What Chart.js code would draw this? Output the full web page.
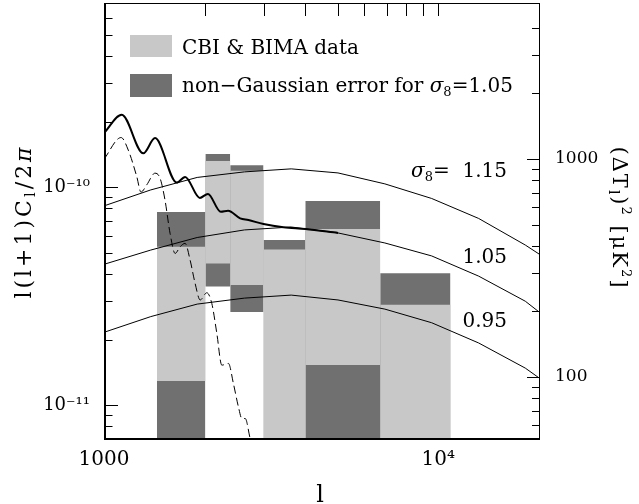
<!DOCTYPE html>
<html>
<head>
<meta charset="utf-8">
<script src="https://cdn.jsdelivr.net/npm/chart.js@4.4.1/dist/chart.umd.min.js"></script>
<style>
  body { margin: 0; background: #fff; }
  #box { width: 639px; height: 504px; }
</style>
</head>
<body>
<div id="box"><canvas id="spectrum"></canvas></div>
<script>
// multipole bin edges of the CBI and BIMA band powers
const binEdges = [1440, 2010, 2385, 3000, 4000, 6700, 10870];
// band power ranges in l(l+1)C_l/2pi (1e-12 = runs off the bottom of the plot)
const dataLow  = [1.29e-11, 4.47e-11, 3.56e-11, 1e-12, 1.53e-11, 1e-12];
const dataHigh = [5.33e-11, 1.32e-10, 1.19e-10, 5.18e-11, 6.43e-11, 2.89e-11];
const ngLow    = [1e-12, 3.50e-11, 2.68e-11, 1e-12, 1e-12, 1e-12];
const ngHigh   = [7.70e-11, 1.42e-10, 1.26e-10, 5.73e-11, 8.65e-11, 4.03e-11];

// SZ power spectra for three values of sigma_8
const ellSZ  = [1000, 1380, 1900, 2630, 3630, 5010, 6920, 9550, 13200, 18200, 20000];
const sz115  = [8.21e-11, 9.72e-11, 1.109e-10, 1.176e-10, 1.214e-10, 1.163e-10, 1.036e-10, 8.88e-11, 7.19e-11, 5.43e-11, 4.94e-11];
const sz105  = [4.43e-11, 5.15e-11, 5.88e-11, 6.37e-11, 6.57e-11, 6.17e-11, 5.55e-11, 4.84e-11, 3.91e-11, 3.00e-11, 2.68e-11];
const sz095  = [2.16e-11, 2.55e-11, 2.91e-11, 3.10e-11, 3.20e-11, 3.04e-11, 2.76e-11, 2.39e-11, 1.93e-11, 1.48e-11, 1.335e-11];

// primary CMB plus SZ (sigma_8 = 1.05)
const ellTotal = [1000, 1130, 1311, 1421, 1651, 1748, 1935, 2045, 2235, 2350, 2554, 2704, 3000, 3442, 4000, 5010];
const clTotal  = [1.77e-10, 2.15e-10, 1.43e-10, 1.68e-10, 1.05e-10, 1.115e-10, 8.93e-11, 9.32e-11, 7.72e-11, 7.80e-11, 7.20e-11, 7.07e-11, 6.78e-11, 6.55e-11, 6.43e-11, 6.17e-11];

// primary CMB only
const ellPrimary = [1000, 1125, 1182, 1253, 1290, 1342, 1421, 1471, 1522, 1576, 1632, 1689, 1748, 1809, 1873, 1939, 2030, 2101, 2175, 2251, 2356, 2438, 2524, 2585, 2645, 2736, 2800];
const clPrimary  = [1.345e-10, 1.69e-10, 1.48e-10, 1.12e-10, 9.5e-11, 1.025e-10, 1.16e-10, 1.10e-10, 8.74e-11, 6.15e-11, 4.97e-11, 5.33e-11, 5.53e-11, 4.64e-11, 3.62e-11, 3.04e-11, 3.28e-11, 2.93e-11, 2.135e-11, 1.527e-11, 1.555e-11, 1.258e-11, 9.82e-12, 8.69e-12, 8.69e-12, 7.03e-12, 6.2e-12];

// axis ticks
const xTicks = [1000, 2000, 3000, 4000, 5000, 6000, 7000, 8000, 9000, 10000];
const yTicks = [8e-12, 9e-12, 1e-11, 2e-11, 3e-11, 4e-11, 5e-11, 6e-11, 7e-11, 8e-11, 9e-11,
                1e-10, 2e-10, 3e-10, 4e-10, 5e-10, 6e-10];
const dtTicks = [60, 70, 80, 90, 100, 200, 300, 400, 500, 600, 700, 800, 900, 1000, 2000, 3000, 4000];

const T0 = 2.725e6;          // CMB temperature, μK
const yMin = 7e-12, yMax = 7e-10;
const lightGrey = '#c8c8c8';
const darkGrey = '#707070';
const serif = '"DejaVu Serif", "Liberation Serif", serif';

const pts = (xs, ys) => xs.map((x, i) => ({ x, y: ys[i] }));

// each band is a pair of flat lines filled between them
function bands(lows, highs, color, order) {
  const out = [];
  lows.forEach((lo, i) => {
    const x0 = binEdges[i], x1 = binEdges[i + 1];
    out.push({ data: [{ x: x0, y: highs[i] }, { x: x1, y: highs[i] }], fill: '+1',
               backgroundColor: color, borderWidth: 0, pointRadius: 0, order });
    out.push({ data: [{ x: x0, y: lo }, { x: x1, y: lo }], fill: false,
               borderWidth: 0, pointRadius: 0, order });
  });
  return out;
}

const curve = (xs, ys, extra) => Object.assign({
  data: pts(xs, ys), borderColor: '#000', borderWidth: 1, pointRadius: 0,
  fill: false, tension: 0, order: 0
}, extra);

const datasets = [
  curve(ellTotal, clTotal, { borderWidth: 2, cubicInterpolationMode: 'monotone' }),
  curve(ellPrimary, clPrimary, { borderDash: [8, 4], cubicInterpolationMode: 'monotone' }),
  curve(ellSZ, sz115),
  curve(ellSZ, sz105),
  curve(ellSZ, sz095),
  ...bands(dataLow, dataHigh, lightGrey, 1),
  ...bands(ngLow, ngHigh, darkGrey, 2)
];

const isDecade = v => Math.abs(Math.log10(v) - Math.round(Math.log10(v))) < 1e-6;
const supDigits = { '-': '⁻', '0': '⁰', '1': '¹', '2': '²', '3': '³', '4': '⁴', '5': '⁵', '6': '⁶', '7': '⁷', '8': '⁸', '9': '⁹' };
const powLabel = v => '10' + String(Math.round(Math.log10(v))).split('').map(c => supDigits[c]).join('');

function rich(ctx, parts, x, y, align) {
  const fontOf = p => (p.italic ? 'italic ' : '') + p.size + 'px ' + serif;
  let total = 0;
  parts.forEach(p => { ctx.font = fontOf(p); p.w = ctx.measureText(p.text).width; total += p.w; });
  let cx = align === 'center' ? x - total / 2 : align === 'right' ? x - total : x;
  ctx.textAlign = 'left';
  ctx.textBaseline = 'alphabetic';
  parts.forEach(p => { ctx.font = fontOf(p); ctx.fillText(p.text, cx, y + (p.dy || 0)); cx += p.w; });
}

const decorations = {
  id: 'decorations',
  afterDraw(chart) {
    const { ctx, chartArea: a, scales } = chart;
    ctx.save();
    ctx.setLineDash([]);
    ctx.strokeStyle = '#000';
    ctx.fillStyle = '#000';
    const seg = (x0, y0, x1, y1) => { ctx.beginPath(); ctx.moveTo(x0, y0); ctx.lineTo(x1, y1); ctx.stroke(); };

    // inward tick marks
    ctx.lineWidth = 1;
    yTicks.forEach(v => {
      const py = Math.round(scales.y.getPixelForValue(v)) + 0.5;
      seg(a.left, py, a.left + (isDecade(v) ? 14 : 8.5), py);
    });
    xTicks.forEach(v => {
      const px = Math.round(scales.x.getPixelForValue(v)) + 0.5;
      seg(px, a.top, px, a.top + 13);
    });
    dtTicks.forEach(v => {
      const py = Math.round(scales.y2.getPixelForValue(v)) + 0.5;
      seg(a.right - (isDecade(v) ? 12 : 7), py, a.right, py);
    });

    // frame: heavy left and bottom, light top and right
    seg(a.left, a.top + 0.5, a.right + 0.5, a.top + 0.5);
    seg(a.right + 0.5, a.top, a.right + 0.5, a.bottom);
    ctx.lineWidth = 2;
    seg(a.left + 1, a.top, a.left + 1, a.bottom + 1);
    seg(a.left, a.bottom, a.right + 1, a.bottom);

    // legend
    ctx.fillStyle = lightGrey;
    ctx.fillRect(130, 35, 42, 22);
    ctx.fillStyle = darkGrey;
    ctx.fillRect(130, 74, 42, 23);
    ctx.fillStyle = '#000';
    rich(ctx, [{ text: 'CBI & BIMA data', size: 20 }], 182, 53.5, 'left');
    rich(ctx, [{ text: 'non\u2212Gaussian error for ', size: 20 },
               { text: 'σ', size: 20, italic: true },
               { text: '8', size: 13, dy: 4 },
               { text: '=1.05', size: 20 }], 182, 92, 'left');

    // curve labels
    rich(ctx, [{ text: 'σ', size: 20, italic: true }, { text: '8', size: 13, dy: 4 },
               { text: '=  1.15', size: 20 }], 507, 177, 'right');
    rich(ctx, [{ text: '1.05', size: 20 }], 507, 263, 'right');
    rich(ctx, [{ text: '0.95', size: 20 }], 507, 327, 'right');

    // axis titles
    ctx.save();
    ctx.translate(31, 221.5);
    ctx.rotate(-Math.PI / 2);
    ctx.letterSpacing = '3px';
    rich(ctx, [{ text: 'l(l+1)C', size: 22 }, { text: 'l', size: 15, dy: 4 },
               { text: '/2', size: 22 }, { text: 'π', size: 22, italic: true }], 0, 0, 'center');
    ctx.restore();

    ctx.save();
    ctx.translate(613, 218);
    ctx.rotate(Math.PI / 2);
    ctx.letterSpacing = '2px';
    rich(ctx, [{ text: '(ΔT', size: 21 }, { text: 'l', size: 14, dy: 4 }, { text: ')', size: 21 },
               { text: '2', size: 13, dy: -9 }, { text: ' [μK', size: 21 },
               { text: '2', size: 13, dy: -9 }, { text: ']', size: 21 }], 0, 0, 'center');
    ctx.restore();

    rich(ctx, [{ text: 'l', size: 24 }], 320, 502, 'center');
    ctx.restore();
  }
};

// keep the plot frame fixed: no label overhang padding
const noPad = s => { s.paddingTop = 0; s.paddingBottom = 0; s.paddingLeft = 0; s.paddingRight = 0; };

new Chart(document.getElementById('spectrum'), {
  type: 'line',
  data: { datasets },
  options: {
    responsive: true,
    maintainAspectRatio: false,
    animation: false,
    devicePixelRatio: 1,
    layout: { padding: { top: 3, left: 0, right: 0, bottom: 0 } },
    plugins: { legend: { display: false }, tooltip: { enabled: false } },
    scales: {
      x: {
        type: 'logarithmic', min: 1000, max: 20000,
        grid: { display: false, drawTicks: false }, border: { display: false },
        afterBuildTicks: s => { s.ticks = [1000, 10000].map(value => ({ value })); },
        afterFit: s => { s.height = 65; noPad(s); },
        ticks: {
          autoSkip: false, maxRotation: 0, padding: 9, color: '#000',
          font: { family: serif, size: 20 },
          callback: v => v === 1000 ? '1000' : '10⁴'
        }
      },
      y: {
        type: 'logarithmic', position: 'left', min: yMin, max: yMax,
        grid: { display: false, drawTicks: false }, border: { display: false },
        afterBuildTicks: s => { s.ticks = [1e-11, 1e-10].map(value => ({ value })); },
        afterFit: s => { s.width = 104; noPad(s); },
        ticks: {
          autoSkip: false, padding: 14, color: '#000',
          font: { family: serif, size: 18 },
          callback: v => powLabel(v)
        }
      },
      y2: {
        type: 'logarithmic', position: 'right', min: yMin * T0 * T0, max: yMax * T0 * T0,
        grid: { display: false, drawTicks: false }, border: { display: false },
        afterBuildTicks: s => { s.ticks = [100, 1000].map(value => ({ value })); },
        afterFit: s => { s.width = 100; noPad(s); },
        ticks: {
          autoSkip: false, padding: 16, color: '#000',
          font: { family: serif, size: 17 },
          callback: v => String(Math.round(v))
        }
      }
    }
  },
  plugins: [decorations]
});
</script>
</body>
</html>
